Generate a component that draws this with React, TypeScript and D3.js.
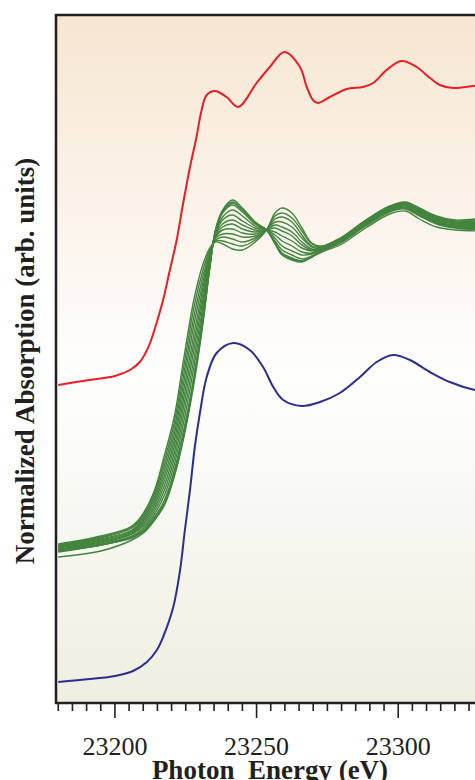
import React from 'react';
import * as d3 from 'd3';

const W = 475;
const H = 780;

// x-axis
const energyDomain = [23179.2, 23330];
const majorTicks = [23200, 23250, 23300];
const xTitle = 'Photon  Energy (eV)';
const yTitle = 'Normalized Absorption (arb. units)';

// Red spectrum (top, offset)
const redE = [23180, 23191, 23200, 23205.3, 23208.8, 23210.6, 23212.4, 23214.7, 23217, 23219.4, 23221.8, 23224.1, 23226.5, 23228.8, 23230.6, 23232.4, 23235.3, 23239.4, 23243.5, 23250, 23254.7, 23259.8, 23265.3, 23267.7, 23269.9, 23271.6, 23275.9, 23281.8, 23287.6, 23291.2, 23295.9, 23301.2, 23306.5, 23311.2, 23314.7, 23319.4, 23326.5, 23330];
const redV = [3.18, 3.23, 3.27, 3.33, 3.41, 3.49, 3.60, 3.80, 4.03, 4.33, 4.63, 5.00, 5.36, 5.66, 5.93, 6.08, 6.12, 6.06, 5.96, 6.20, 6.36, 6.51, 6.36, 6.16, 6.03, 6.00, 6.06, 6.14, 6.16, 6.20, 6.33, 6.42, 6.36, 6.25, 6.18, 6.15, 6.17, 6.18];

// Blue spectrum (bottom)
const blueE = [23180, 23191.2, 23200, 23206.4, 23211.3, 23214.8, 23217, 23220.6, 23222.9, 23224.7, 23226.5, 23228.2, 23230, 23232.4, 23235.9, 23241.8, 23247.6, 23252.3, 23255.9, 23259.4, 23265.9, 23272.4, 23279.4, 23286.5, 23292.4, 23298.2, 23304.1, 23311.2, 23318.2, 23327.1, 23330];
const blueV = [0.21, 0.24, 0.27, 0.32, 0.41, 0.53, 0.66, 0.96, 1.31, 1.73, 2.13, 2.56, 2.90, 3.26, 3.50, 3.60, 3.53, 3.36, 3.16, 3.03, 2.97, 3.01, 3.10, 3.26, 3.41, 3.48, 3.43, 3.31, 3.21, 3.13, 3.12];

// Green series of spectra (middle)
const greenE = [23180, 23195, 23206, 23210.5, 23214, 23217.5, 23221, 23224.5, 23228, 23231, 23233.5, 23235.5, 23238, 23241.5, 23245, 23249.5, 23253.5, 23256.5, 23259, 23262.5, 23266, 23269.5, 23273, 23279.5, 23288.5, 23297, 23302.5, 23307.5, 23313.5, 23320, 23330];
const green0 = [1.59, 1.67, 1.77, 1.92, 2.13, 2.48, 2.87, 3.48, 4.05, 4.38, 4.55, 4.61, 4.59, 4.54, 4.53, 4.61, 4.73, 4.90, 4.95, 4.90, 4.75, 4.60, 4.57, 4.65, 4.83, 4.97, 5.01, 4.95, 4.87, 4.83, 4.85];
const green1 = [1.58, 1.66, 1.76, 1.90, 2.10, 2.43, 2.81, 3.40, 3.97, 4.32, 4.53, 4.62, 4.62, 4.59, 4.57, 4.63, 4.73, 4.87, 4.90, 4.85, 4.72, 4.59, 4.56, 4.64, 4.82, 4.96, 5.00, 4.94, 4.86, 4.82, 4.84];
const green2 = [1.57, 1.65, 1.75, 1.88, 2.07, 2.38, 2.75, 3.32, 3.88, 4.26, 4.51, 4.63, 4.66, 4.64, 4.61, 4.65, 4.73, 4.84, 4.86, 4.81, 4.68, 4.57, 4.56, 4.64, 4.82, 4.96, 5.00, 4.93, 4.85, 4.81, 4.83];
const green3 = [1.57, 1.64, 1.73, 1.86, 2.04, 2.33, 2.69, 3.24, 3.80, 4.20, 4.49, 4.65, 4.69, 4.69, 4.66, 4.67, 4.73, 4.81, 4.81, 4.76, 4.65, 4.56, 4.55, 4.63, 4.81, 4.95, 4.99, 4.93, 4.85, 4.81, 4.81];
const green4 = [1.56, 1.63, 1.72, 1.84, 2.01, 2.28, 2.63, 3.16, 3.71, 4.14, 4.47, 4.66, 4.73, 4.74, 4.70, 4.69, 4.73, 4.78, 4.76, 4.71, 4.61, 4.54, 4.55, 4.63, 4.81, 4.95, 4.98, 4.92, 4.84, 4.80, 4.80];
const green5 = [1.55, 1.62, 1.71, 1.82, 1.98, 2.23, 2.57, 3.08, 3.63, 4.08, 4.45, 4.67, 4.76, 4.79, 4.74, 4.71, 4.73, 4.75, 4.72, 4.67, 4.58, 4.53, 4.55, 4.63, 4.80, 4.94, 4.98, 4.91, 4.83, 4.79, 4.79];
const green6 = [1.54, 1.61, 1.70, 1.80, 1.95, 2.18, 2.51, 3.00, 3.55, 4.02, 4.43, 4.68, 4.79, 4.83, 4.78, 4.73, 4.73, 4.71, 4.67, 4.62, 4.55, 4.52, 4.54, 4.62, 4.79, 4.93, 4.97, 4.90, 4.82, 4.78, 4.78];
const green7 = [1.53, 1.60, 1.69, 1.78, 1.92, 2.13, 2.45, 2.92, 3.46, 3.96, 4.41, 4.69, 4.83, 4.88, 4.82, 4.75, 4.73, 4.68, 4.62, 4.57, 4.51, 4.50, 4.54, 4.62, 4.79, 4.93, 4.96, 4.89, 4.81, 4.77, 4.77];
const green8 = [1.53, 1.59, 1.67, 1.76, 1.89, 2.08, 2.39, 2.84, 3.38, 3.90, 4.39, 4.71, 4.86, 4.93, 4.87, 4.77, 4.73, 4.65, 4.57, 4.52, 4.48, 4.49, 4.53, 4.61, 4.78, 4.92, 4.95, 4.89, 4.81, 4.77, 4.75];
const green9 = [1.52, 1.58, 1.66, 1.74, 1.86, 2.03, 2.33, 2.76, 3.29, 3.84, 4.37, 4.72, 4.90, 4.98, 4.91, 4.79, 4.73, 4.62, 4.53, 4.48, 4.44, 4.47, 4.52, 4.60, 4.78, 4.92, 4.95, 4.88, 4.80, 4.76, 4.74];
const green10 = [1.51, 1.58, 1.65, 1.72, 1.83, 1.98, 2.27, 2.68, 3.21, 3.78, 4.35, 4.73, 4.93, 5.03, 4.95, 4.81, 4.73, 4.59, 4.48, 4.43, 4.41, 4.46, 4.52, 4.60, 4.77, 4.91, 4.94, 4.87, 4.79, 4.75, 4.73];
const green11 = [1.52, 1.58, 1.66, 1.73, 1.85, 2.00, 2.30, 2.72, 3.25, 3.81, 4.36, 4.73, 4.92, 5.01, 4.93, 4.80, 4.73, 4.60, 4.50, 4.45, 4.42, 4.46, 4.52, 4.60, 4.77, 4.92, 4.95, 4.88, 4.80, 4.76, 4.74];
const green12 = [1.46, 1.52, 1.63, 1.71, 1.83, 1.99, 2.28, 2.70, 3.24, 3.80, 4.36, 4.72, 4.91, 5.00, 4.93, 4.80, 4.73, 4.60, 4.49, 4.44, 4.42, 4.46, 4.51, 4.58, 4.75, 4.89, 4.92, 4.84, 4.76, 4.73, 4.72];
const greenSeries = [green0, green1, green2, green3, green4, green5, green6, green7, green8, green9, green10, green11, green12];

const SERIF = "'Liberation Serif', 'Times New Roman', Times, serif";

export default function App() {
  const left = 56, top = 15, bottom = 703, right = 483.2;
  const x = d3.scaleLinear().domain(energyDomain).range([left, right]);
  const y = d3.scaleLinear().domain([0, 6.88]).range([bottom, top]);
  const line = d3
    .line<[number, number]>()
    .x((d) => x(d[0]))
    .y((d) => y(d[1]))
    .curve(d3.curveCatmullRom.alpha(0.5));
  const pts = (es: number[], vs: number[]) => es.map((e, i) => [e, vs[i]] as [number, number]);
  const minorTicks = d3.range(23180, 23330, 5).filter((t) => !majorTicks.includes(t));

  return (
    <svg width={W} height={H} style={{ position: 'absolute', left: 0, top: 0, display: 'block' }}>
      <defs>
        <linearGradient id="bg" x1="0" y1="0" x2="0" y2="1">
          <stop offset="0%" stopColor="#f6e6d1" />
          <stop offset="28%" stopColor="#fbf3ea" />
          <stop offset="52%" stopColor="#fefefd" />
          <stop offset="75%" stopColor="#f7f7f1" />
          <stop offset="100%" stopColor="#eeeee1" />
        </linearGradient>
        <clipPath id="plotClip">
          <rect x={left} y={top} width={right - left} height={bottom - top} />
        </clipPath>
      </defs>
      <rect x={left} y={top} width={right - left} height={bottom - top} fill="url(#bg)" />
      <g clipPath="url(#plotClip)" fill="none">
        <path d={line(pts(redE, redV)) || ''} stroke="#ec1c24" strokeWidth={2} />
        {greenSeries.map((g, i) => (
          <path key={i} d={line(pts(greenE, g)) || ''} stroke="#43843e" strokeWidth={1.4} />
        ))}
        <path d={line(pts(blueE, blueV)) || ''} stroke="#2b2e8f" strokeWidth={2} />
      </g>
      <rect x={left} y={top} width={right - left} height={bottom - top} fill="none" stroke="#231f20" strokeWidth={2.5} />
      <g stroke="#231f20" strokeWidth={1.6}>
        {minorTicks.map((t) => (
          <line key={t} x1={x(t)} x2={x(t)} y1={bottom} y2={bottom + 8} />
        ))}
        {majorTicks.map((t) => (
          <line key={t} x1={x(t)} x2={x(t)} y1={bottom} y2={bottom + 15} />
        ))}
      </g>
      <g fontFamily={SERIF} fill="#231f20">
        {majorTicks.map((t) => (
          <text key={t} x={x(t)} y={755} fontSize={26} textAnchor="middle">
            {t}
          </text>
        ))}
        <text x={270} y={779} fontSize={27} fontWeight="bold" textAnchor="middle" style={{ whiteSpace: 'pre' }}>
          {xTitle}
        </text>
        <text
          transform={`translate(33.5, ${361}) rotate(-90)`}
          fontSize={27}
          fontWeight="bold"
          textAnchor="middle"
        >
          {yTitle}
        </text>
      </g>
    </svg>
  );
}
